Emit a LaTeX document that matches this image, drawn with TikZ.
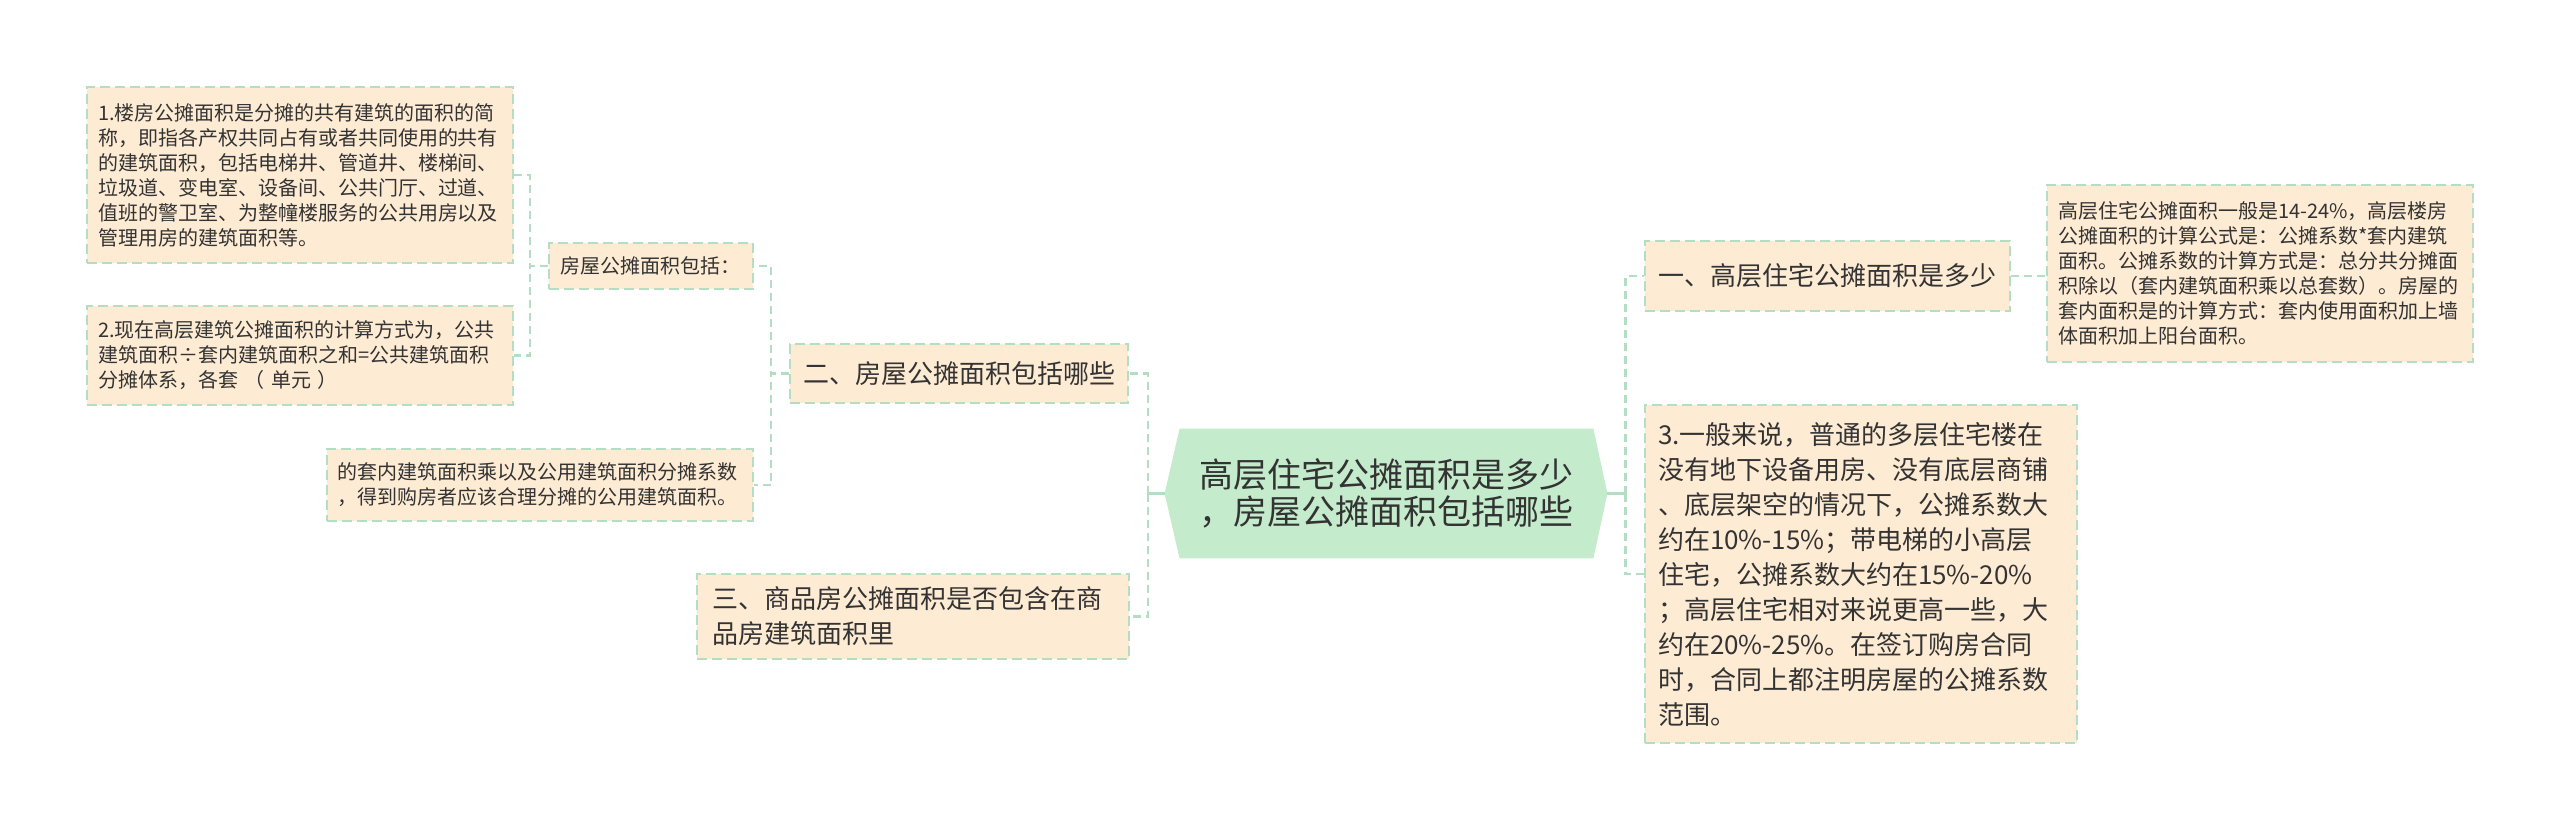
\documentclass[tikz,border=0pt]{standalone}
\usepackage{fontspec}
\setmainfont{Noto Sans CJK SC}
\usetikzlibrary{backgrounds}
\definecolor{peach}{HTML}{FDEBD3}
\definecolor{lgreen}{HTML}{B4DEC3}
\definecolor{cgreen}{HTML}{C4EBCC}
\definecolor{txt}{HTML}{333333}
\begin{document}
\begin{tikzpicture}[x=0.5pt,y=-0.5pt,
  box/.style={draw=lgreen, fill=peach, line width=1pt, dash pattern=on 5pt off 2.5pt, text=txt, align=left, inner ysep=0pt},
  small/.style={font=\fontsize{10pt}{12.5pt}\selectfont},
  big/.style={font=\fontsize{13pt}{17.5pt}\selectfont},
  conn/.style={draw=lgreen, line width=1.1pt, dash pattern=on 4pt off 2.5pt},
  stub/.style={draw=lgreen, line width=1.3pt},
  centerbox/.style={text=txt, align=center, minimum width=221pt, minimum height=64.5pt, inner sep=0pt, font=\fontsize{17pt}{18.5pt}\selectfont},
]
\useasboundingbox (0,0) rectangle (2560,831);

% left side
\node[box, small, text width=202pt, inner xsep=5.5pt, minimum height=88pt] (b1) at (300,175) {1.楼房公摊面积是分摊的共有建筑的面积的简\\称，即指各产权共同占有或者共同使用的共有\\的建筑面积，包括电梯井、管道井、楼梯间、\\垃圾道、变电室、设备间、公共门厅、过道、\\值班的警卫室、为整幢楼服务的公共用房以及\\管理用房的建筑面积等。};
\node[box, small, text width=202pt, inner xsep=5.5pt, minimum height=49.5pt] (b2) at (300,355.5) {2.现在高层建筑公摊面积的计算方式为，公共\\建筑面积÷套内建筑面积之和=公共建筑面积\\分摊体系，各套 （ 单元 ）};
\node[box, small, text width=91pt, inner xsep=5.5pt, minimum height=23pt] (incl) at (651,266) {房屋公摊面积包括：};
\node[box, small, text width=203pt, inner xsep=5pt, minimum height=36pt] (b4) at (540,485) {的套内建筑面积乘以及公用建筑面积分摊系数\\，得到购房者应该合理分摊的公用建筑面积。};
\node[box, big, text width=156pt, inner xsep=6.5pt, minimum height=29.5pt] (two) at (959,373.5) {二、房屋公摊面积包括哪些};
\node[box, big, text width=201pt, inner xsep=7.5pt, minimum height=42.5pt] (three) at (913,616.5) {三、商品房公摊面积是否包含在商\\品房建筑面积里};

% center
\node[centerbox] (c) at (1386,493.5) {高层住宅公摊面积是多少\\，房屋公摊面积包括哪些};
\begin{scope}[on background layer]
\fill[white] (0,0) rectangle (2560,831);
\fill[cgreen] ([xshift=7.5pt]c.north west) -- ([xshift=-7pt]c.north east) -- (c.east) -- ([xshift=-7pt]c.south east) -- ([xshift=7.5pt]c.south west) -- (c.west) -- cycle;
\end{scope}

% right side
\node[box, big, text width=169.5pt, inner xsep=6.5pt, minimum height=35pt] (one) at (1827.5,276) {一、高层住宅公摊面积是多少};
\node[box, small, text width=202pt, inner xsep=5.5pt, minimum height=88.5pt] (right) at (2260,273.5) {高层住宅公摊面积一般是14-24\%，高层楼房\\公摊面积的计算公式是：公摊系数*套内建筑\\面积。公摊系数的计算方式是：总分共分摊面\\积除以（套内建筑面积乘以总套数）。房屋的\\套内面积是的计算方式：套内使用面积加上墙\\体面积加上阳台面积。};
\node[box, big, text width=203pt, inner xsep=6.5pt, minimum height=169pt] (three3) at (1861,574) {3.一般来说，普通的多层住宅楼在\\没有地下设备用房、没有底层商铺\\、底层架空的情况下，公摊系数大\\约在10\%-15\%；带电梯的小高层\\住宅，公摊系数大约在15\%-20\%\\；高层住宅相对来说更高一些，大\\约在20\%-25\%。在签订购房合同\\时，合同上都注明房屋的公摊系数\\范围。};

% connectors
\draw[stub] (c.west) -- ++(-17,0) coordinate (cl);
\draw[conn] (cl) |- (two.east);
\draw[conn] (cl) |- (three.east);
\draw[conn] (two.west) -- ++(-18,0) |- (incl.east);
\draw[conn] (two.west) -- ++(-18,0) |- (b4.east);
\draw[conn] (incl.west) -- ++(-18,0) |- (b1.east);
\draw[conn] (incl.west) -- ++(-18,0) |- (b2.east);
\draw[stub] (c.east) -- ++(18,0) coordinate (cr);
\draw[conn] (cr) |- (one.west);
\draw[conn] (cr) |- (three3.west);
\draw[conn] (one.east) -- (one.east -| right.west);
\end{tikzpicture}
\end{document}
